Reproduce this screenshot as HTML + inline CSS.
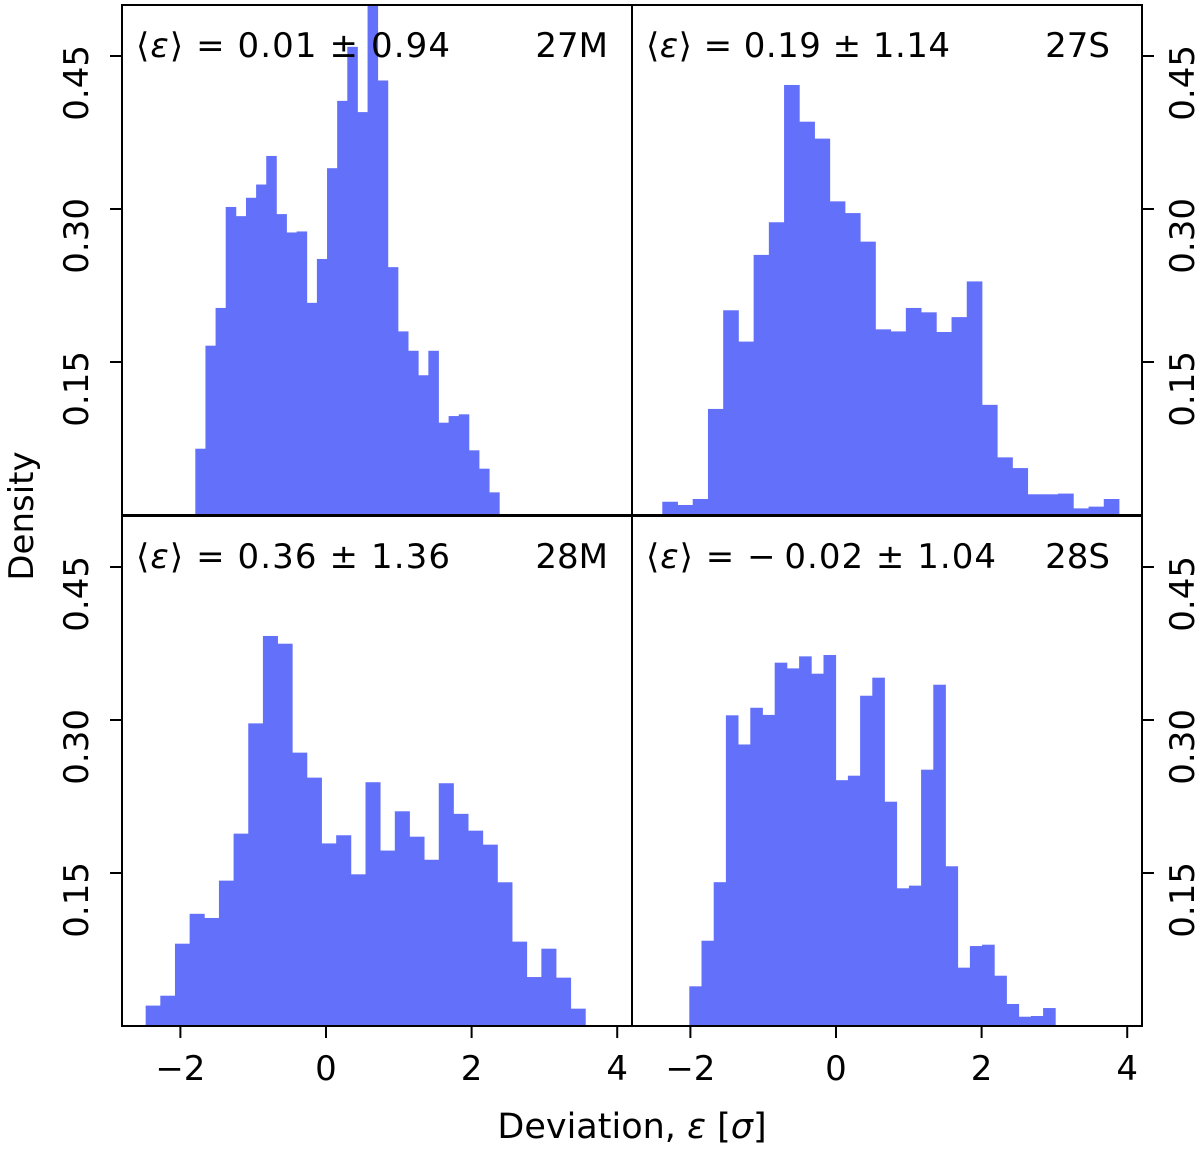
<!DOCTYPE html>
<html><head><meta charset="utf-8"><style>
html,body{margin:0;padding:0;background:#fff;}
svg{display:block;font-family:"DejaVu Sans","Liberation Sans",sans-serif;}
</style></head><body>
<svg id="chart" width="1200" height="1149" viewBox="0 0 1200 1149" xmlns="http://www.w3.org/2000/svg">
<g id="bars"></g>
<g id="frames"></g>
<g id="ticks"></g>
<text x="632" y="1138" font-size="35" text-anchor="middle">Deviation, <tspan font-style="italic">ε</tspan> [<tspan font-style="italic">σ</tspan>]</text>
<text transform="translate(33,516) rotate(-90)" font-size="34" text-anchor="middle">Density</text>
</svg>
<script>
const panelNames = ["27M", "27S", "28M", "28S"];
const meanLabels = ["0.01", "0.19", "0.36", "\u2212\u20090.02"];
const stdLabels = ["0.94", "1.14", "1.36", "1.04"];
const binStart = [-1.795, -2.386, -2.477, -2.015];
const binEnd = [2.38, 3.887, 3.562, 3.012];
const dens27M = [0.065,0.166,0.203,0.302,0.293,0.311,0.324,0.352,0.295,0.277,0.278,0.208,0.251,0.340,0.406,0.459,0.395,0.52,0.426,0.243,0.180,0.161,0.137,0.161,0.0905,0.097,0.0987,0.0634,0.0454,0.0222];
const dens27S = [0.013,0.0098,0.0157,0.104,0.2007,0.170,0.255,0.287,0.4216,0.3856,0.369,0.3075,0.296,0.268,0.182,0.180,0.203,0.1987,0.1794,0.194,0.229,0.108,0.0565,0.046,0.0203,0.0203,0.021,0.0065,0.0082,0.0157];
const dens28M = [0.020,0.0297,0.0807,0.110,0.1059,0.1425,0.1886,0.2967,0.3824,0.3748,0.268,0.2435,0.179,0.187,0.1487,0.239,0.172,0.2105,0.1856,0.163,0.238,0.208,0.1915,0.1778,0.1409,0.0827,0.048,0.0758,0.0474,0.017];
const dens28S = [0.0389,0.0836,0.141,0.3046,0.276,0.312,0.305,0.3562,0.3506,0.3624,0.3454,0.3637,0.241,0.2454,0.3238,0.3415,0.2199,0.135,0.1376,0.2513,0.3346,0.1566,0.0572,0.0784,0.0797,0.0493,0.0216,0.0091,0.0098,0.0176];
const xTicks = [-2, 0, 2, 4];
const yTicks = [0.15, 0.30, 0.45];
const yTickLabels = ["0.15", "0.30", "0.45"];

const NS = "http://www.w3.org/2000/svg";
const series = [dens27M, dens27S, dens28M, dens28S];
const annLen = [314, 304, 314, 350];
const X0 = 122, PW = 510, XMIN = -2.802, XMAX = 4.203;
const TOPS = [5, 516], PH = 510, YMAX = 0.5;
function xScale(col, v){ return X0 + col*PW + (v - XMIN)/(XMAX - XMIN)*PW; }
function yScale(row, v){ return TOPS[row] + PH - v/YMAX*PH; }
function mk(tag, attrs, parent){ const e=document.createElementNS(NS,tag); for(const k in attrs) e.setAttribute(k,attrs[k]); parent.appendChild(e); return e; }
const svg=document.getElementById('chart');
const gb=document.getElementById('bars'), gf=document.getElementById('frames'), gt=document.getElementById('ticks');

for(let p=0;p<4;p++){
  const col=p%2, row=Math.floor(p/2);
  const d=series[p];
  const w=(binEnd[p]-binStart[p])/d.length;
  const clip=mk('clipPath',{id:'clip'+p},svg);
  mk('rect',{x:X0+col*PW,y:TOPS[row],width:PW,height:PH},clip);
  const g=mk('g',{'clip-path':'url(#clip'+p+')'},gb);
  
  
  for(let i=0;i<d.length;i++){
    const xa=xScale(col,binStart[p]+i*w), xb=xScale(col,binStart[p]+(i+1)*w);
    const yt=yScale(row,d[i]), yb=yScale(row,0);
    const r=mk('rect',{x:xa,y:yt,width:xb-xa+0.4,height:yb-yt,fill:'#6370fa'},g);
    
    
  }
  const fr=mk('rect',{x:X0+col*PW,y:TOPS[row],width:PW,height:PH,fill:'none',stroke:'#000','stroke-width':2},gf);
  
  
  const ann=mk('text',{x:X0+col*PW+14,y:TOPS[row]+52,'font-size':34,textLength:annLen[p],lengthAdjust:'spacing'},gf);
  
  
  ann.innerHTML='\u27E8<tspan font-style="italic">\u03B5</tspan>\u27E9 = '+meanLabels[p]+' \u00B1 '+stdLabels[p];
  const nm=mk('text',{x:X0+col*PW+(col===0?486:478),y:TOPS[row]+52,'font-size':34,'text-anchor':'end'},gf);
  nm.textContent=panelNames[p];
  
  
  for(let k=0;k<yTicks.length;k++){
    const y=yScale(row,yTicks[k]);
    let x1,x2,lx;
    if(col===0){x1=X0-12;x2=X0;lx=88;} else {x1=X0+2*PW;x2=X0+2*PW+12;lx=1194;}
    mk('line',{x1:x1,x2:x2,y1:y,y2:y,stroke:'#000','stroke-width':2},gt);
    const t=mk('text',{transform:'translate('+lx+','+(y-11)+') rotate(-90)','font-size':34,'text-anchor':'end'},gt);
    t.textContent=yTickLabels[k];
    
    
  }
  if(row===1){
    for(let k=0;k<xTicks.length;k++){
      const x=xScale(col,xTicks[k]);
      mk('line',{x1:x,x2:x,y1:TOPS[1]+PH,y2:TOPS[1]+PH+12,stroke:'#000','stroke-width':2},gt);
      const t=mk('text',{x:x,y:1080,'font-size':34,'text-anchor':'middle'},gt);
      t.textContent=(xTicks[k]<0?'\u2212':'')+Math.abs(xTicks[k]);
      
      
    }
  }
}
</script>
</body></html>
